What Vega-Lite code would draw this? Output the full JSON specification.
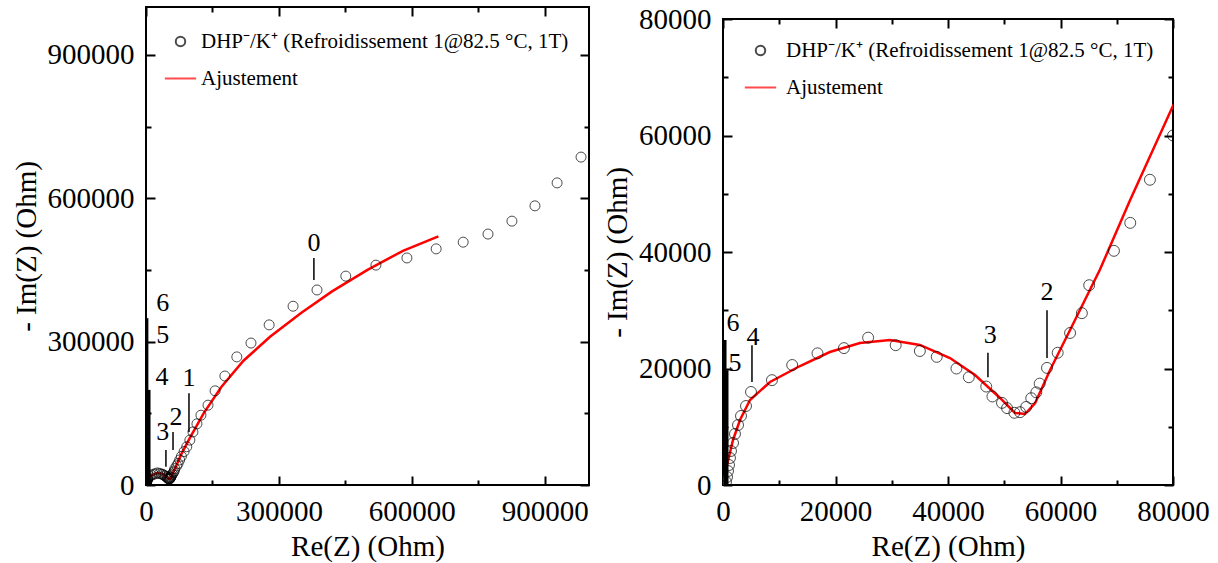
{
  "$schema": "https://vega.github.io/schema/vega-lite/v6.json",
  "padding": {"left": 11, "top": 4, "right": 5, "bottom": 5},
  "spacing": 11,
  "background": "white",
  "datasets": {
    "pts": [
      {"re": 530, "im": 520, "series": "DHP"}, {"re": 710, "im": 1370, "series": "DHP"}, {"re": 890, "im": 2400, "series": "DHP"},
      {"re": 1070, "im": 3430, "series": "DHP"}, {"re": 1240, "im": 4640, "series": "DHP"}, {"re": 1420, "im": 5840, "series": "DHP"},
      {"re": 1780, "im": 7210, "series": "DHP"}, {"re": 2130, "im": 8760, "series": "DHP"}, {"re": 2670, "im": 10300, "series": "DHP"},
      {"re": 3200, "im": 11850, "series": "DHP"}, {"re": 4090, "im": 13560, "series": "DHP"}, {"re": 4980, "im": 15970, "series": "DHP"},
      {"re": 8700, "im": 18000, "series": "DHP"}, {"re": 12300, "im": 20600, "series": "DHP"}, {"re": 16800, "im": 22600, "series": "DHP"},
      {"re": 21500, "im": 23500, "series": "DHP"}, {"re": 25800, "im": 25300, "series": "DHP"}, {"re": 30700, "im": 24000, "series": "DHP"},
      {"re": 35000, "im": 23000, "series": "DHP"}, {"re": 38000, "im": 22000, "series": "DHP"}, {"re": 41500, "im": 20000, "series": "DHP"},
      {"re": 43700, "im": 18500, "series": "DHP"}, {"re": 46800, "im": 16900, "series": "DHP"}, {"re": 47900, "im": 15200, "series": "DHP"},
      {"re": 49600, "im": 14100, "series": "DHP"}, {"re": 50500, "im": 13200, "series": "DHP"}, {"re": 51800, "im": 12400, "series": "DHP"},
      {"re": 52800, "im": 12500, "series": "DHP"}, {"re": 53900, "im": 13400, "series": "DHP"}, {"re": 54800, "im": 14900, "series": "DHP"},
      {"re": 55700, "im": 15900, "series": "DHP"}, {"re": 56300, "im": 17400, "series": "DHP"}, {"re": 57600, "im": 20100, "series": "DHP"},
      {"re": 59500, "im": 22700, "series": "DHP"}, {"re": 61700, "im": 26100, "series": "DHP"}, {"re": 63800, "im": 29500, "series": "DHP"},
      {"re": 65100, "im": 34300, "series": "DHP"}, {"re": 69500, "im": 40200, "series": "DHP"}, {"re": 72400, "im": 45000, "series": "DHP"},
      {"re": 75900, "im": 52400, "series": "DHP"}, {"re": 80000, "im": 60000, "series": "DHP"},
      {"re": 86000, "im": 70000, "series": "DHP"}, {"re": 92000, "im": 80000, "series": "DHP"}, {"re": 99000, "im": 94000, "series": "DHP"},
      {"re": 106000, "im": 111000, "series": "DHP"}, {"re": 115000, "im": 128000, "series": "DHP"}, {"re": 124000, "im": 146000, "series": "DHP"},
      {"re": 140000, "im": 167000, "series": "DHP"}, {"re": 156000, "im": 197000, "series": "DHP"}, {"re": 178000, "im": 228000, "series": "DHP"},
      {"re": 205000, "im": 268000, "series": "DHP"}, {"re": 237000, "im": 297000, "series": "DHP"}, {"re": 278000, "im": 335000, "series": "DHP"},
      {"re": 332000, "im": 374000, "series": "DHP"}, {"re": 386000, "im": 408000, "series": "DHP"}, {"re": 451000, "im": 437000, "series": "DHP"},
      {"re": 519000, "im": 460000, "series": "DHP"}, {"re": 589000, "im": 475000, "series": "DHP"}, {"re": 655000, "im": 494000, "series": "DHP"},
      {"re": 716000, "im": 508000, "series": "DHP"}, {"re": 772000, "im": 525000, "series": "DHP"}, {"re": 826000, "im": 552000, "series": "DHP"},
      {"re": 878000, "im": 584000, "series": "DHP"}, {"re": 928000, "im": 632000, "series": "DHP"}, {"re": 982000, "im": 686000, "series": "DHP"}
    ],
    "fit": [
      {"re": 0, "im": 0, "series": "Ajustement"}, {"re": 710, "im": 3430, "series": "Ajustement"}, {"re": 1780, "im": 7730, "series": "Ajustement"},
      {"re": 3020, "im": 11160, "series": "Ajustement"}, {"re": 4800, "im": 14590, "series": "Ajustement"}, {"re": 8360, "im": 17690, "series": "Ajustement"},
      {"re": 13690, "im": 20430, "series": "Ajustement"}, {"re": 19000, "im": 22830, "series": "Ajustement"}, {"re": 24350, "im": 24380, "series": "Ajustement"},
      {"re": 29700, "im": 24900, "series": "Ajustement"}, {"re": 35000, "im": 24040, "series": "Ajustement"}, {"re": 40350, "im": 21800, "series": "Ajustement"},
      {"re": 44800, "im": 18890, "series": "Ajustement"}, {"re": 49250, "im": 14940, "series": "Ajustement"}, {"re": 51900, "im": 12360, "series": "Ajustement"},
      {"re": 53700, "im": 12190, "series": "Ajustement"}, {"re": 55500, "im": 14080, "series": "Ajustement"}, {"re": 58150, "im": 19740, "series": "Ajustement"},
      {"re": 61700, "im": 26610, "series": "Ajustement"}, {"re": 67000, "im": 36950, "series": "Ajustement"}, {"re": 72400, "im": 48970, "series": "Ajustement"},
      {"re": 80000, "im": 65100, "series": "Ajustement"}, {"re": 100000, "im": 100000, "series": "Ajustement"}, {"re": 130000, "im": 150000, "series": "Ajustement"},
      {"re": 170000, "im": 205000, "series": "Ajustement"}, {"re": 220000, "im": 260000, "series": "Ajustement"}, {"re": 280000, "im": 310000, "series": "Ajustement"},
      {"re": 350000, "im": 360000, "series": "Ajustement"}, {"re": 420000, "im": 405000, "series": "Ajustement"}, {"re": 500000, "im": 450000, "series": "Ajustement"},
      {"re": 580000, "im": 490000, "series": "Ajustement"}, {"re": 660000, "im": 520000, "series": "Ajustement"}
    ],
    "labL": [
      {"t": "0", "re": 379000, "im": 506000}, {"t": "1", "re": 97000, "im": 224000}, {"t": "2", "re": 68000, "im": 142000},
      {"t": "3", "re": 38000, "im": 111000}, {"t": "4", "re": 36000, "im": 226000}, {"t": "5", "re": 38000, "im": 314000},
      {"t": "6", "re": 38000, "im": 381000}
    ],
    "tickL": [
      {"re": 379000, "y1": 429000, "y2": 475000}, {"re": 97000, "y1": 111000, "y2": 192000},
      {"re": 61000, "y1": 73000, "y2": 111000}, {"re": 45000, "y1": 38000, "y2": 73000}
    ],
    "barL": [
      {"re": 6800, "y1": 0, "y2": 199000}, {"re": 2000, "y1": 0, "y2": 349000}
    ],
    "labR": [
      {"t": "6", "re": 1780, "im": 27800}, {"t": "5", "re": 2130, "im": 20900}, {"t": "4", "re": 5330, "im": 25400},
      {"t": "3", "re": 47500, "im": 25800}, {"t": "2", "re": 57600, "im": 33100}
    ],
    "tickR": [
      {"re": 5150, "y1": 17700, "y2": 24000}, {"re": 47100, "y1": 18500, "y2": 22700}, {"re": 57600, "y1": 21800, "y2": 30000}
    ],
    "barR": [
      {"re": 360, "y1": 0, "y2": 24900}, {"re": 710, "y1": 0, "y2": 19700}
    ],
    "none": []
  },
  "resolve": {"scale": {"color": "independent", "shape": "independent"}},
  "hconcat": [
    {
      "width": 443,
      "height": 478,
      "resolve": {"axis": {"x": "independent", "y": "independent"}},
      "layer": [
        {
          "data": {"name": "fit"},
          "mark": {"type": "line", "strokeWidth": 2.5, "clip": true},
          "encoding": {
            "x": {"field": "re", "type": "quantitative", "scale": {"domain": [0, 1000000], "nice": false},
              "axis": {"orient": "bottom", "title": "Re(Z) (Ohm)", "values": [0, 300000, 600000, 900000], "format": "d", "offset": -9, "tickSize": 9, "labelPadding": 12}},
            "y": {"field": "im", "type": "quantitative", "scale": {"domain": [0, 1000000], "nice": false},
              "axis": {"orient": "left", "title": "- Im(Z) (Ohm)", "values": [0, 300000, 600000, 900000], "format": "d", "offset": -9, "tickSize": 9, "labelPadding": 12}},
            "color": {"field": "series", "type": "nominal",
              "scale": {"domain": ["DHP", "Ajustement"], "range": ["black", "red"]},
              "legend": {"orient": "none", "legendX": 24, "legendY": 24, "title": null, "labelFontSize": 21, "labelLimit": 0,
                "rowPadding": 15, "labelOffset": 10, "symbolSize": 90, "symbolStrokeWidth": 2,
                "labelExpr": "datum.label === 'DHP' ? 'DHP⁻/K⁺ (Refroidissement 1@82.5 °C, 1T)' : datum.label"}}
          }
        },
        {
          "data": {"name": "pts"},
          "mark": {"type": "point", "filled": false, "size": 100, "strokeWidth": 1, "clip": true},
          "encoding": {
            "x": {"field": "re", "type": "quantitative",
              "axis": {"orient": "bottom", "title": null, "labels": false, "values": [150000, 450000, 750000], "offset": -5, "tickSize": 5}},
            "y": {"field": "im", "type": "quantitative",
              "axis": {"orient": "left", "title": null, "labels": false, "values": [150000, 450000, 750000], "offset": -5, "tickSize": 5}},
            "color": {"field": "series", "type": "nominal"},
            "shape": {"field": "series", "type": "nominal",
              "scale": {"domain": ["DHP", "Ajustement"], "range": ["circle", "M-3.3,0L3.3,0"]}}
          }
        },
        {
          "data": {"name": "tickL"},
          "mark": {"type": "rule", "color": "black", "strokeWidth": 1.5},
          "encoding": {
            "x": {"field": "re", "type": "quantitative",
              "axis": {"orient": "top", "title": null, "labels": false, "values": [0, 300000, 600000, 900000], "offset": -9, "tickSize": 9}},
            "y": {"field": "y1", "type": "quantitative",
              "axis": {"orient": "right", "title": null, "labels": false, "values": [0, 300000, 600000, 900000], "offset": -9, "tickSize": 9}},
            "y2": {"field": "y2"}
          }
        },
        {
          "data": {"name": "barL"},
          "mark": {"type": "rule", "color": "black", "strokeWidth": 3},
          "encoding": {
            "x": {"field": "re", "type": "quantitative",
              "axis": {"orient": "top", "title": null, "labels": false, "values": [150000, 450000, 750000], "offset": -5, "tickSize": 5}},
            "y": {"field": "y1", "type": "quantitative",
              "axis": {"orient": "right", "title": null, "labels": false, "values": [150000, 450000, 750000], "offset": -5, "tickSize": 5}},
            "y2": {"field": "y2"}
          }
        },
        {
          "data": {"name": "labL"},
          "mark": {"type": "text", "fontSize": 26, "font": "Liberation Serif", "color": "black", "align": "center", "baseline": "middle"},
          "encoding": {
            "x": {"field": "re", "type": "quantitative", "axis": null},
            "y": {"field": "im", "type": "quantitative", "axis": null},
            "text": {"field": "t"}
          }
        }
      ]
    },
    {
      "spacing": -4,
      "resolve": {"scale": {"color": "independent", "shape": "independent"}},
      "vconcat": [
        {
          "width": 450,
          "height": 1,
          "view": {"stroke": null},
          "data": {"name": "none"},
          "mark": {"type": "point"},
          "encoding": {}
        },
        {
          "width": 450,
          "height": 466,
          "resolve": {"axis": {"x": "independent", "y": "independent"}},
          "layer": [
            {
              "data": {"name": "fit"},
              "mark": {"type": "line", "strokeWidth": 2.5, "clip": true},
              "encoding": {
                "x": {"field": "re", "type": "quantitative", "scale": {"domain": [0, 80000], "nice": false},
                  "axis": {"orient": "bottom", "title": "Re(Z) (Ohm)", "values": [0, 20000, 40000, 60000, 80000], "format": "d", "offset": -9, "tickSize": 9, "labelPadding": 12}},
                "y": {"field": "im", "type": "quantitative", "scale": {"domain": [0, 80000], "nice": false},
                  "axis": {"orient": "left", "title": "- Im(Z) (Ohm)", "values": [0, 20000, 40000, 60000, 80000], "format": "d", "offset": -9, "tickSize": 9, "labelPadding": 12}},
                "color": {"field": "series", "type": "nominal",
                  "scale": {"domain": ["DHP", "Ajustement"], "range": ["black", "red"]},
                  "legend": {"orient": "none", "legendX": 27, "legendY": 21, "title": null, "labelFontSize": 21, "labelLimit": 0,
                    "rowPadding": 15, "labelOffset": 15, "symbolSize": 90, "symbolStrokeWidth": 2,
                    "labelExpr": "datum.label === 'DHP' ? 'DHP⁻/K⁺ (Refroidissement 1@82.5 °C, 1T)' : datum.label"}}
              }
            },
            {
              "data": {"name": "pts"},
              "mark": {"type": "point", "filled": false, "size": 120, "strokeWidth": 1, "clip": true},
              "encoding": {
                "x": {"field": "re", "type": "quantitative",
                  "axis": {"orient": "bottom", "title": null, "labels": false, "values": [10000, 30000, 50000, 70000], "offset": -5, "tickSize": 5}},
                "y": {"field": "im", "type": "quantitative",
                  "axis": {"orient": "left", "title": null, "labels": false, "values": [10000, 30000, 50000, 70000], "offset": -5, "tickSize": 5}},
                "color": {"field": "series", "type": "nominal"},
                "shape": {"field": "series", "type": "nominal",
                  "scale": {"domain": ["DHP", "Ajustement"], "range": ["circle", "M-3.3,0L3.3,0"]}}
              }
            },
            {
              "data": {"name": "tickR"},
              "mark": {"type": "rule", "color": "black", "strokeWidth": 1.5},
              "encoding": {
                "x": {"field": "re", "type": "quantitative",
                  "axis": {"orient": "top", "title": null, "labels": false, "values": [0, 20000, 40000, 60000, 80000], "offset": -9, "tickSize": 9}},
                "y": {"field": "y1", "type": "quantitative",
                  "axis": {"orient": "right", "title": null, "labels": false, "values": [0, 20000, 40000, 60000, 80000], "offset": -9, "tickSize": 9}},
                "y2": {"field": "y2"}
              }
            },
            {
              "data": {"name": "barR"},
              "mark": {"type": "rule", "color": "black", "strokeWidth": 3},
              "encoding": {
                "x": {"field": "re", "type": "quantitative",
                  "axis": {"orient": "top", "title": null, "labels": false, "values": [10000, 30000, 50000, 70000], "offset": -5, "tickSize": 5}},
                "y": {"field": "y1", "type": "quantitative",
                  "axis": {"orient": "right", "title": null, "labels": false, "values": [10000, 30000, 50000, 70000], "offset": -5, "tickSize": 5}},
                "y2": {"field": "y2"}
              }
            },
            {
              "data": {"name": "labR"},
              "mark": {"type": "text", "fontSize": 26, "font": "Liberation Serif", "color": "black", "align": "center", "baseline": "middle"},
              "encoding": {
                "x": {"field": "re", "type": "quantitative", "axis": null},
                "y": {"field": "im", "type": "quantitative", "axis": null},
                "text": {"field": "t"}
              }
            }
          ]
        }
      ]
    }
  ],
  "config": {
    "font": "Liberation Serif",
    "view": {"stroke": "black", "strokeWidth": 2},
    "axis": {"labelFont": "Liberation Serif", "labelFontSize": 29, "titleFont": "Liberation Serif", "titleFontSize": 29,
      "titleFontWeight": "normal", "labelColor": "black", "titleColor": "black", "domain": false, "ticks": true,
      "tickColor": "black", "tickWidth": 2, "grid": false, "titlePadding": 6, "labelFlush": false, "labelOverlap": false},
    "legend": {"labelFont": "Liberation Serif", "labelColor": "black"}
  }
}
